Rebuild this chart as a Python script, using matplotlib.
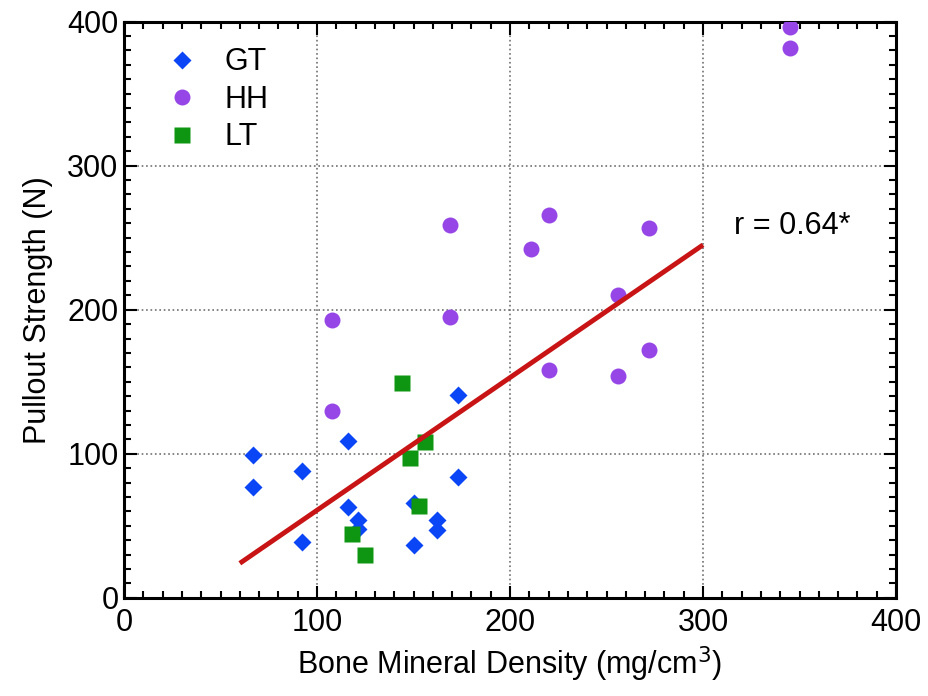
import numpy as np
import matplotlib
matplotlib.use("Agg")
import matplotlib.pyplot as plt
from matplotlib.ticker import MultipleLocator

plt.rcParams['font.family'] = ['Liberation Sans', 'DejaVu Sans']

# GT - greater trochanter
gt_bmd = [67, 67, 92, 92, 116, 116, 121, 121, 150, 150, 162, 162, 173, 173]
gt_pull = [99, 77, 88, 39, 109, 63, 54, 48, 66, 37, 54, 47, 141, 84]

# HH - humeral head
hh_bmd = [108, 108, 169, 169, 220, 211, 272, 256, 272, 220, 256, 345, 345]
hh_pull = [130, 193, 259, 195, 266, 242, 257, 210, 172, 158, 154, 396, 382]

# LT - lesser trochanter
lt_bmd = [144, 156, 148, 153, 118, 125]
lt_pull = [149, 108, 97, 64, 44, 30]

# regression line end points
fit_x = [60, 300]
fit_y = [24, 245]
r_text = "r = 0.64*"

fig = plt.figure(figsize=(9.29, 6.96), dpi=100)
ax = fig.add_axes([0.1335, 0.141, 0.831, 0.828])

ax.plot(gt_bmd, gt_pull, 'D', color='#0A46F5', markersize=9.5, mec='none', label='GT', zorder=3)
ax.plot(hh_bmd, hh_pull, 'o', color='#9646E6', markersize=11.5, mec='none', label='HH', zorder=3)
ax.plot(lt_bmd, lt_pull, 's', color='#0E9612', markersize=11, mec='none', label='LT', zorder=3)
ax.plot(fit_x, fit_y, '-', color='#C81414', lw=3.5, solid_capstyle='butt', zorder=4)

ax.text(316, 258, r_text, fontsize=22, ha='left', va='center')

ax.set_xlim(0, 400)
ax.set_ylim(0, 400)
ax.xaxis.set_major_locator(MultipleLocator(100))
ax.yaxis.set_major_locator(MultipleLocator(100))
ax.xaxis.set_minor_locator(MultipleLocator(10))
ax.yaxis.set_minor_locator(MultipleLocator(10))
ax.tick_params(which='both', direction='in', top=True, right=True, width=1.5, labelsize=22)
ax.tick_params(which='major', length=9)
ax.tick_params(which='minor', length=5)
ax.tick_params(axis='x', pad=7)
ax.tick_params(axis='y', pad=4)
for s in ax.spines.values():
    s.set_linewidth(2.2)

ax.grid(True, which='major', linestyle=':', color='#707070', lw=1.2)
ax.set_axisbelow(True)

ax.set_xlabel("Bone Mineral Density (mg/cm$^3$)", fontsize=22, labelpad=5)
ax.set_ylabel("Pullout Strength (N)", fontsize=22, labelpad=10)

ax.legend(loc='upper left', frameon=False, fontsize=22, handletextpad=0.4,
          labelspacing=0.25, borderaxespad=0.25, bbox_to_anchor=(0.01, 0.99))

fig.savefig("out.png", dpi=100)
